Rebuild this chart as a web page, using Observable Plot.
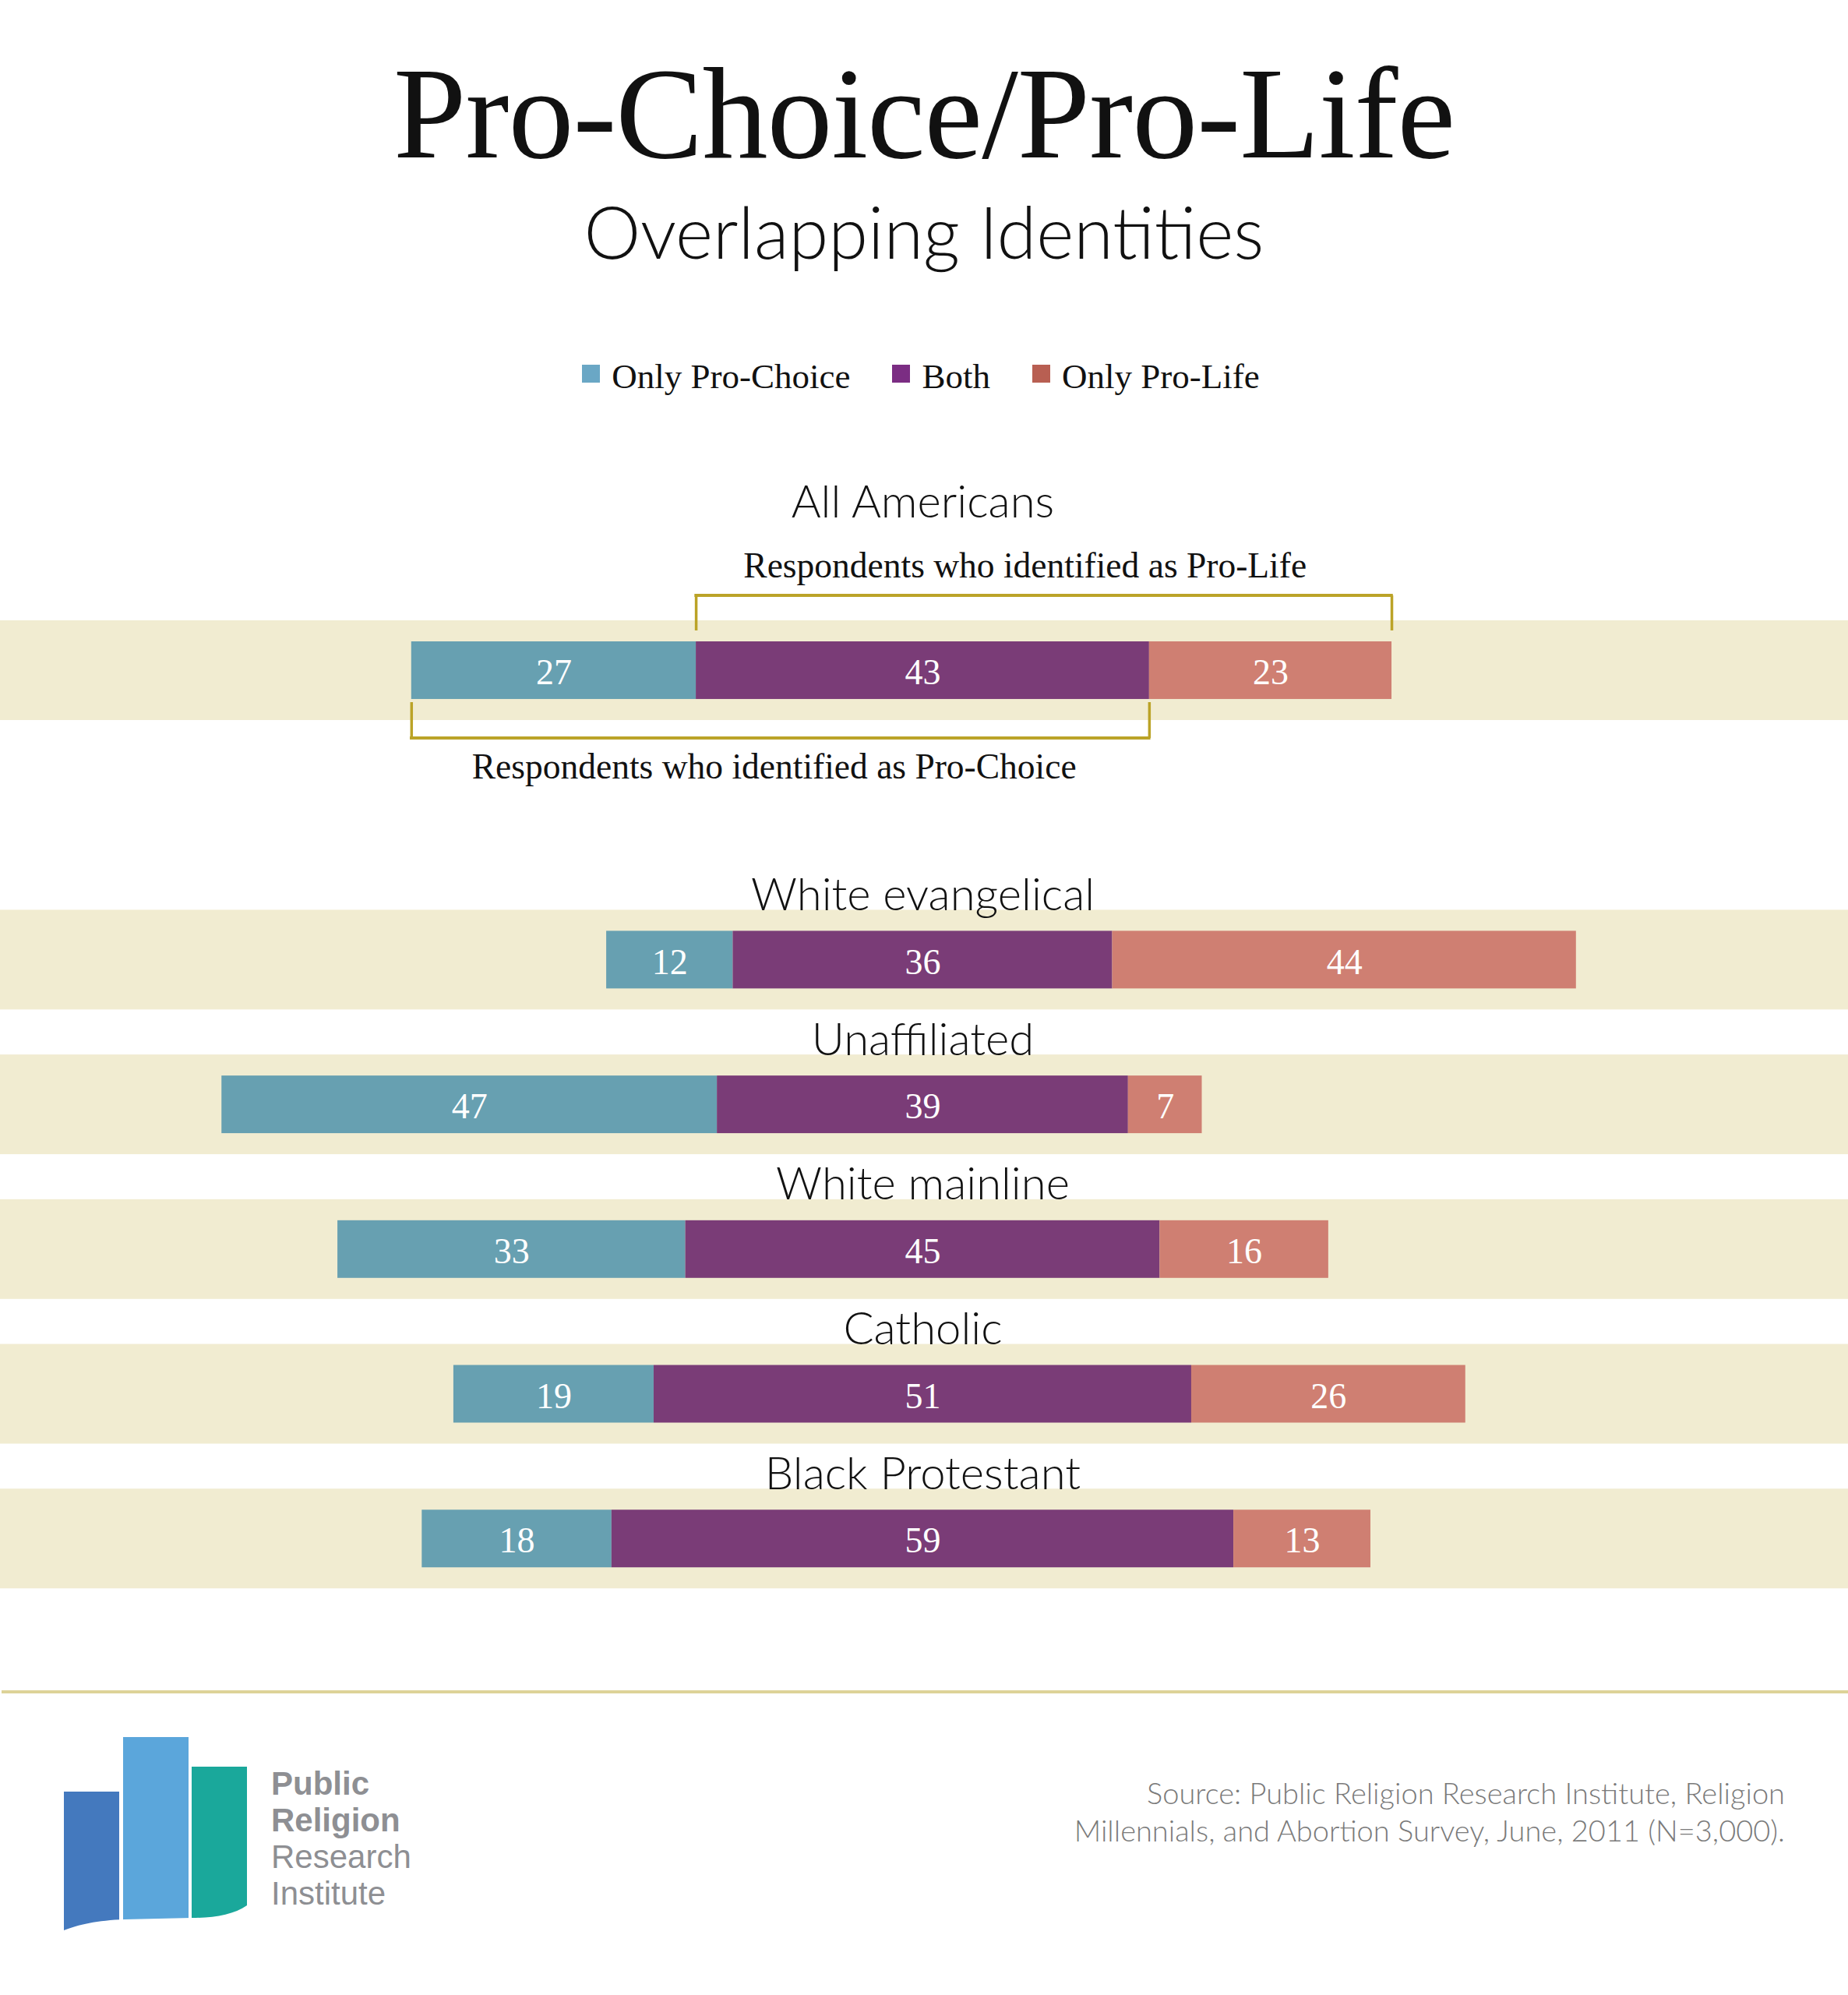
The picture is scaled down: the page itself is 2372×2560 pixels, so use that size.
<!DOCTYPE html>
<html>
<head>
<meta charset="utf-8">
<script src="https://cdn.jsdelivr.net/npm/d3@7"></script>
<script src="https://cdn.jsdelivr.net/npm/@observablehq/plot@0.6"></script>
<style>
  html, body { margin: 0; padding: 0; background: #ffffff; }
  #page { position: relative; width: 2372px; height: 2560px; overflow: hidden; background: #fff; }
  #title { position: absolute; left: 0; width: 2372px; top: 61px; text-align: center;
    font-family: "Liberation Serif", serif; font-size: 168px; line-height: 1; color: #111; letter-spacing: -1px; }
  #subtitle { position: absolute; left: 0; width: 2372px; top: 251px; text-align: center;
    font-family: "Lato", sans-serif; font-weight: 300; font-size: 92px; line-height: 1; color: #111; }
  #legend { position: absolute; left: -4px; width: 2372px; top: 457px; display: flex; justify-content: center; }
  .leg-swatches { margin: 0 !important; justify-content: center; font-family: "Liberation Serif", serif !important; font-size: 45px !important; color: #111; }
  .leg-swatch { margin-right: 54px !important; }
  .leg-swatch:last-child { margin-right: 0 !important; }
  .leg-swatch > svg { margin-right: 15px !important; margin-top: -8px; }
  #chart { position: absolute; left: 0; top: 560px; }
  #divider { position: absolute; left: 2px; top: 2169px; width: 2370px; height: 4px; background: #DDD398; }
  #logo { position: absolute; left: 0; top: 2200px; }
  #logotext { position: absolute; left: 348px; top: 2265px; font-family: "Liberation Sans", sans-serif;
    font-size: 42px; line-height: 47px; color: #8E8F93; }
  #logotext .b { font-weight: 700; }
  #source { position: absolute; right: 81px; top: 2276px; text-align: right; font-family: "Lato", sans-serif;
    font-weight: 300; font-size: 38px; line-height: 48px; color: #7a7a7a; }
</style>
</head>
<body>
<div id="page">
  <div id="title">Pro-Choice/Pro-Life</div>
  <div id="subtitle">Overlapping Identities</div>
  <div id="legend"></div>
  <div id="chart"></div>
  <div id="divider"></div>
  <svg id="logo" width="340" height="300" viewBox="0 0 340 300">
    <defs>
      <clipPath id="flag">
        <path d="M82,0 H317 V245 C300,257 275,261 246,261 L160,263 C125,264 100,270 82,277 Z"></path>
      </clipPath>
    </defs>
    <g clip-path="url(#flag)">
      <rect x="82" y="99" width="71" height="200" fill="#4479BE"></rect>
      <rect x="158" y="29" width="84" height="270" fill="#5BA6DB"></rect>
      <rect x="246" y="67" width="71" height="232" fill="#1AA89B"></rect>
    </g>
  </svg>
  <div id="logotext"><span class="b">Public</span><br><span class="b">Religion</span><br>Research<br>Institute</div>
  <div id="source">Source: Public Religion Research Institute, Religion<br>Millennials, and Abortion Survey, June, 2011 (N=3,000).</div>
</div>
<script>
// ---- data ----
const groups = ["All Americans", "White evangelical", "Unaffiliated", "White mainline", "Catholic", "Black Protestant"];
const categories = ["Only Pro-Choice", "Both", "Only Pro-Life"];
const onlyProChoice = [27, 12, 47, 33, 19, 18];
const both = [43, 36, 39, 45, 51, 59];
const onlyProLife = [23, 44, 7, 16, 26, 13];
const bracketLabels = ["Respondents who identified as Pro-Life", "Respondents who identified as Pro-Choice"];

// ---- styles ----
const barColors = ["#67A0B1", "#7A3C77", "#CF7F72"];
const legendColors = ["#6AA7C5", "#7B2D83", "#B85F52"];
const bandColor = "#F1ECD1";
const bracketColor = "#BBA327";

// ---- derived table: the "Both" segment is centred on zero ----
const segments = groups.flatMap((g, i) => {
  const h = both[i] / 2;
  return [
    {group: g, cat: categories[0], value: onlyProChoice[i], x1: -h - onlyProChoice[i], x2: -h},
    {group: g, cat: categories[1], value: both[i], x1: -h, x2: h},
    {group: g, cat: categories[2], value: onlyProLife[i], x1: h, x2: h + onlyProLife[i]}
  ];
});
const mids = segments.filter(d => d.cat === "Both").map(d => ({group: d.group, mid: (d.x1 + d.x2) / 2}));

// brackets for All Americans
const aa = 0;
const topBracket = {group: groups[aa], x1: -both[aa] / 2, x2: both[aa] / 2 + onlyProLife[aa], label: bracketLabels[0]};
const botBracket = {group: groups[aa], x1: -both[aa] / 2 - onlyProChoice[aa], x2: both[aa] / 2, label: bracketLabels[1]};
const topTicks = [topBracket.x1, topBracket.x2].map(x => ({group: groups[aa], x}));
const botTicks = [botBracket.x1, botBracket.x2].map(x => ({group: groups[aa], x}));

const spacer = "";
const yDomain = [groups[0], spacer, ...groups.slice(1)];

const serif = "Liberation Serif";

const plot = Plot.plot({
  width: 2372,
  height: 1500,
  marginLeft: 0, marginRight: 0, marginTop: 0, marginBottom: 0,
  style: {background: "transparent", overflow: "visible"},
  x: {domain: [-87.51, 87.81], axis: null},
  y: {domain: yDomain, range: [236, 1478.2], paddingInner: 0.311, paddingOuter: 0, round: false, axis: null},
  color: {domain: categories, range: barColors},
  marks: [
    Plot.cell(groups, {y: d => d, fill: bandColor}),
    Plot.barX(segments, {x1: "x1", x2: "x2", y: "group", fill: "cat", insetTop: 27, insetBottom: 27}),
    Plot.text(segments, {x: d => (d.x1 + d.x2) / 2, y: "group", text: d => String(d.value),
      fill: "white", fontFamily: serif, fontSize: 46, dy: 3}),
    // group labels
    Plot.text(mids.slice(1), {x: "mid", y: "group", text: "group", lineAnchor: "bottom", dy: -64,
      fontFamily: "Lato", fontWeight: 300, fontSize: 58, fill: "#111"}),
    Plot.text(mids.slice(0, 1), {x: "mid", y: "group", text: "group", lineAnchor: "bottom", dy: -196,
      fontFamily: "Lato", fontWeight: 300, fontSize: 58, fill: "#111"}),
    // brackets
    Plot.barX([topBracket], {x1: "x1", x2: "x2", y: "group", fill: bracketColor,
      insetTop: -34, insetBottom: 158, insetLeft: -1.75, insetRight: -1.75}),
    Plot.tickX(topTicks, {x: "x", y: "group", stroke: bracketColor, strokeWidth: 3.5, insetTop: -32, insetBottom: 115}),
    Plot.barX([botBracket], {x1: "x1", x2: "x2", y: "group", fill: bracketColor,
      insetTop: 149, insetBottom: -25, insetLeft: -1.75, insetRight: -1.75}),
    Plot.tickX(botTicks, {x: "x", y: "group", stroke: bracketColor, strokeWidth: 3.5, insetTop: 105, insetBottom: -23}),
    Plot.text([topBracket], {x: d => (d.x1 + d.x2) / 2 - 1.8, y: "group", text: "label", lineAnchor: "bottom", dy: -119,
      fontFamily: serif, fontSize: 45.5, fill: "#111"}),
    Plot.text([botBracket], {x: d => (d.x1 + d.x2) / 2 - 0.6, y: "group", text: "label", lineAnchor: "bottom", dy: 139,
      fontFamily: serif, fontSize: 45.5, fill: "#111"})
  ]
});
document.getElementById("chart").appendChild(plot);

const legend = Plot.legend({
  color: {domain: categories, range: legendColors},
  swatchSize: 23,
  className: "leg",
  style: {fontFamily: serif, fontSize: "45px", color: "#111"}
});
document.getElementById("legend").appendChild(legend);
</script>
</body>
</html>
